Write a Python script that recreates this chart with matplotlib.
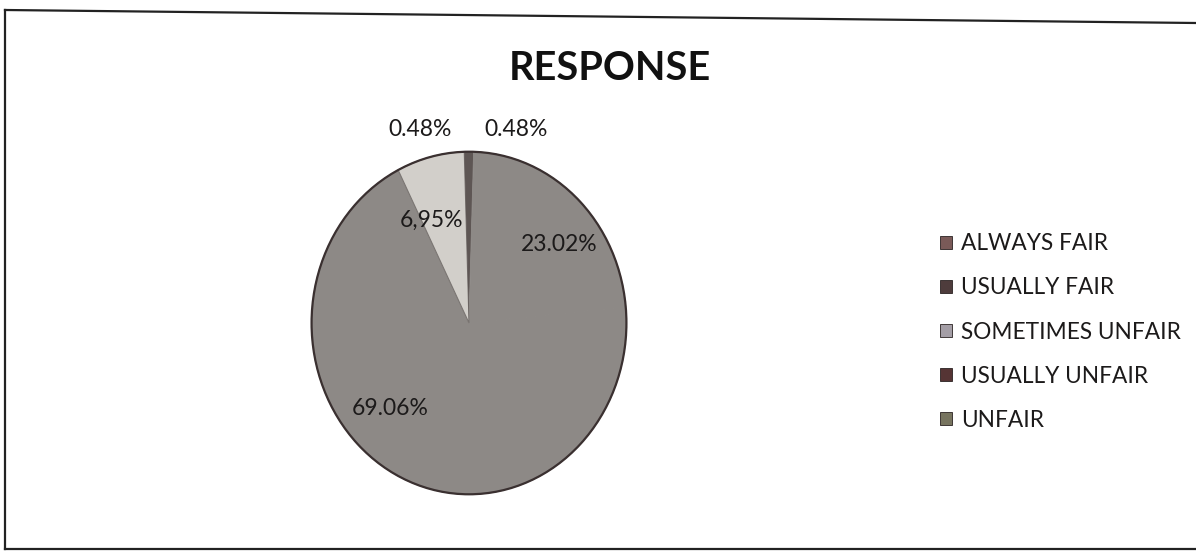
import matplotlib

matplotlib.use("Agg")
import matplotlib.pyplot as plt
import numpy as np
from matplotlib.lines import Line2D
from matplotlib.patches import Circle, Patch

CATEGORIES = ["ALWAYS FAIR", "USUALLY FAIR", "SOMETIMES UNFAIR",
              "USUALLY UNFAIR", "UNFAIR"]
SHARES = [0.48, 23.02, 69.06, 6.95, 0.48]
LABELS = ["0.48%", "23.02%", "69.06%", "6,95%", "0.48%"]

WEDGE_COLORS = ["#5e5654", "#8d8986", "#8d8986", "#d2cfca", "#5e5654"]
LEGEND_COLORS = ["#7a5a58", "#4e3c3c", "#a49ea6", "#553434", "#77745f"]
# where each percentage sits, in pie-radius units (Excel "best fit")
LABEL_XY = [(0.30, 1.13), (0.57, 0.46), (-0.50, -0.50), (-0.24, 0.60),
            (-0.31, 1.13)]

W, H = 1196, 552
FONT = "Lato"

fig = plt.figure(figsize=(W / 100, H / 100), dpi=100, facecolor="white")

# pie, slightly taller than wide like the scan
cx, cy, rx, ry = 469, 323, 159, 173
ax = fig.add_axes([(cx - rx) / W, (H - cy - ry) / H, 2 * rx / W, 2 * ry / H])
wedges, _ = ax.pie(SHARES, colors=WEDGE_COLORS, startangle=90,
                   counterclock=False, radius=1.0,
                   wedgeprops=dict(linewidth=0))
# big grey slices merge on the scan, only the light one shows a seam
for w in wedges[1:3]:
    w.set_edgecolor(w.get_facecolor())
    w.set_linewidth(0.8)
wedges[3].set_edgecolor("#7a7572")
wedges[3].set_linewidth(0.8)
ax.add_patch(Circle((0, 0), 1.0, fill=False, edgecolor="#3a3030", lw=1.6))
ax.set_aspect("auto")
ax.set_xlim(-1.01, 1.01)
ax.set_ylim(-1.01, 1.01)
ax.axis("off")

for (lx, ly), txt in zip(LABEL_XY, LABELS):
    ax.text(lx, ly, txt, ha="center", va="center", fontsize=16.5,
            family=FONT, color="#1c1a1a")

fig.text(610 / W, 1 - 68 / H, "RESPONSE", ha="center", va="center",
         fontsize=28.5, fontweight="bold", family=FONT, color="#111111")

handles = [Patch(facecolor=c, edgecolor="#2a2222", linewidth=0.6)
           for c in LEGEND_COLORS]
fig.legend(handles, CATEGORIES, loc="upper left",
           bbox_to_anchor=(929 / W, 1 - 222 / H), frameon=False,
           prop=dict(family=FONT, size=16.3), handlelength=0.5,
           handleheight=0.5, handletextpad=0.4, labelspacing=1.02,
           labelcolor="#1c1a1a", borderpad=0)

# scanned frame (top edge a little skewed)
for xs, ys in [([5, W], [10, 23]), ([5, 5], [10, 549]), ([5, W], [549, 549])]:
    fig.add_artist(Line2D(np.array(xs) / W, 1 - np.array(ys) / H,
                          transform=fig.transFigure, color="#222222", lw=1.6))

fig.savefig("out.png", dpi=100, facecolor="white")
